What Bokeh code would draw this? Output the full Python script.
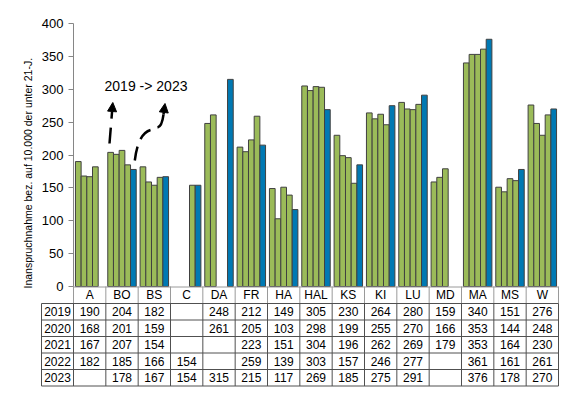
from bokeh.plotting import figure
from bokeh.models import Range1d, FixedTicker, Label, Arrow, NormalHead, ColumnDataSource, Title
from bokeh.core.properties import value
from bokeh.embed import file_html
from bokeh.resources import INLINE

# ---------------- data ----------------
categories = ["A", "BO", "BS", "C", "DA", "FR", "HA", "HAL", "KS", "KI", "LU", "MD", "MA", "MS", "W"]
years = ["2019", "2020", "2021", "2022", "2023"]
v2019 = [190, 204, 182, None, 248, 212, 149, 305, 230, 264, 280, 159, 340, 151, 276]
v2020 = [168, 201, 159, None, 261, 205, 103, 298, 199, 255, 270, 166, 353, 144, 248]
v2021 = [167, 207, 154, None, None, 223, 151, 304, 196, 262, 269, 179, 353, 164, 230]
v2022 = [182, 185, 166, 154, None, 259, 139, 303, 157, 246, 277, None, 361, 161, 261]
v2023 = [None, 178, 167, 154, 315, 215, 117, 269, 185, 275, 291, None, 376, 178, 270]
series = [v2019, v2020, v2021, v2022, v2023]
y_ticks = [0, 50, 100, 150, 200, 250, 300, 350, 400]
y_label = "Inanspruchnahme bez. auf 10.000 der unter 21-J."
note = "2019 -> 2023"

# ---------------- style ----------------
FONT = "Liberation Sans"
GREEN = "#9BBB59"
BLUE = "#0079B3"
colors = [GREEN, GREEN, GREEN, GREEN, BLUE]
N = len(categories)
PX = 485 / N          # px per category
PY = 263 / 400.0      # px per unit
BW = 0.176

# screen px -> data (x=0 at x 73, y=0 at y 286)
def dx(px):
    return (px - 73) / PX

def dy(py):
    return (286 - py) / PY

W, H = 579, 387
FL, FR, FT = 40, 559, 15
p = figure(width=W, height=H,
           x_range=Range1d(dx(FL), dx(FR)), y_range=Range1d(dy(H), dy(FT)),
           min_border_left=FL, min_border_right=W - FR, min_border_top=FT,
           min_border_bottom=0, x_axis_location=None, toolbar_location=None,
           output_backend="svg", outline_line_color=None)
p.xgrid.visible = False
p.ygrid.visible = False
yax = p.yaxis[0]
yax.fixed_location = 0
yax.bounds = (0, 400)
yax.ticker = FixedTicker(ticks=y_ticks)
yax.axis_line_color = "#868686"
yax.axis_line_width = 1
yax.major_tick_line_color = "#868686"
yax.major_tick_out = 5
yax.major_tick_in = 0
yax.minor_tick_line_color = None
yax.major_label_text_font = FONT
yax.major_label_text_font_size = "13px"
yax.major_label_text_color = "black"
yax.major_label_standoff = 5

# bars
xs, tops, fills = [], [], []
for j, s in enumerate(series):
    for i, v in enumerate(s):
        if v is None:
            continue
        xs.append(i + 0.5 + (j - 2) * BW)
        tops.append(v)
        fills.append(colors[j])
src = ColumnDataSource(dict(x=xs, top=tops, color=fills))
p.vbar(x="x", top="top", width=BW, bottom=0, fill_color="color", line_color="#404040",
       line_width=1, source=src)

# y label as a left title, starting at the zero level
p.add_layout(Title(text=y_label, align="left", offset=H - 288, text_font=FONT,
                   text_font_size="10.5px", text_font_style="normal", text_color="black",
                   standoff=13), "left")

# annotation
p.add_layout(Label(x=dx(145.5), y=dy(85), text=note, text_align="center",
                   text_baseline="middle", text_font=FONT, text_font_size="14px",
                   text_color="black"))
p.add_layout(Arrow(x_start=dx(109), y_start=dy(143), x_end=dx(112.3), y_end=dy(102),
                   line_width=2.5, line_dash="16 9", line_color="black",
                   end=NormalHead(size=9, fill_color="black", line_color="black")))
p.quadratic(x0=[dx(134.3)], y0=[dy(160)], cx=[dx(138)], cy=[dy(130)], x1=[dx(153)], y1=[dy(129)],
            line_width=2.5, line_color="black", line_dash="14 8")
p.quadratic(x0=[dx(157)], y0=[dy(127)], cx=[dx(161.5)], cy=[dy(126)], x1=[dx(163)], y1=[dy(114)],
            line_width=2.5, line_color="black")
p.add_layout(Arrow(x_start=dx(163), y_start=dy(114), x_end=dx(164.5), y_end=dy(103),
                   line_width=2.5, line_color="black",
                   end=NormalHead(size=9, fill_color="black", line_color="black")))

# ---------------- table (rows in px below the axis) ----------------
row_off = [17, 33.5, 50, 66.5, 83, 99.5]
row_y = [dy(286 + o) for o in row_off]
x_left = dx(41)

p.segment(x0=[0], y0=[dy(286.5)], x1=[N], y1=[dy(286.5)], line_color="#9A9A9A", line_width=1)
p.segment(x0=list(range(N + 1)), y0=[0] * (N + 1), x1=list(range(N + 1)), y1=[row_y[0]] * (N + 1),
          line_color="#9A9A9A", line_width=1)
p.segment(x0=[x_left] * len(row_y), y0=row_y, x1=[N] * len(row_y), y1=row_y,
          line_color="#505050", line_width=1)
vx = [x_left] + list(range(N + 1))
p.segment(x0=vx, y0=[row_y[0]] * len(vx), x1=vx, y1=[row_y[-1]] * len(vx),
          line_color="#505050", line_width=1)

tx, ty, tt = [], [], []
for i, c in enumerate(categories):
    tx.append(i + 0.5); ty.append(row_y[0] / 2); tt.append(c)
for r, (yr, s) in enumerate(zip(years, series)):
    yc = (row_y[r] + row_y[r + 1]) / 2
    tx.append(x_left / 2); ty.append(yc); tt.append(yr)
    for i, v in enumerate(s):
        if v is None:
            continue
        tx.append(i + 0.5); ty.append(yc); tt.append(str(v))
p.text(x=tx, y=ty, text=tt, text_align="center", text_baseline="middle",
       text_font=value(FONT), text_font_size="12px", text_color="black")

open("out.html", "w").write(file_html(p, INLINE))
